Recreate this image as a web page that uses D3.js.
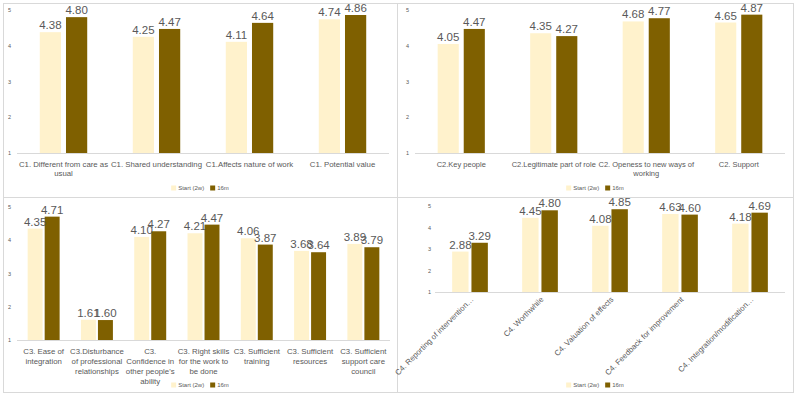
<!DOCTYPE html>
<html>
<head>
<meta charset="utf-8">
<script src="https://cdnjs.cloudflare.com/ajax/libs/d3/7.8.5/d3.min.js"></script>
<style>
  html, body { margin: 0; padding: 0; background: #ffffff; }
  svg { display: block; }
</style>
</head>
<body>
<svg id="chart" width="796" height="399"></svg>
<script>
// ---------------- data ----------------
const seriesNames = ["Start (2w)", "16m"];
const yTicks = [1, 2, 3, 4, 5];

const c1Categories = ["C1. Different from care as usual", "C1. Shared understanding", "C1.Affects nature of work", "C1. Potential value"];
const c1Start = [4.38, 4.25, 4.11, 4.74];
const c1End   = [4.80, 4.47, 4.64, 4.86];

const c2Categories = ["C2.Key people", "C2.Legitimate part of role", "C2. Openess to new ways of working", "C2. Support"];
const c2Start = [4.05, 4.35, 4.68, 4.65];
const c2End   = [4.47, 4.27, 4.77, 4.87];

const c3Categories = ["C3. Ease of integration", "C3.Disturbance of professional relationships", "C3. Confidence in other people's ability", "C3. Right skills for the work to be done", "C3. Sufficient training", "C3. Sufficient resources", "C3. Sufficient support care council"];
const c3Start = [4.35, 1.61, 4.10, 4.21, 4.06, 3.68, 3.89];
const c3End   = [4.71, 1.60, 4.27, 4.47, 3.87, 3.64, 3.79];

const c4Categories = ["C4. Reporting of intervention\u2026", "C4. Worthwhile", "C4. Valuation of effects", "C4. Feedback for improvement", "C4. Integration/modification\u2026"];
const c4Start = [2.88, 4.45, 4.08, 4.63, 4.18];
const c4End   = [3.29, 4.80, 4.85, 4.60, 4.69];

// ---------------- style ----------------
const COLORS = ["#FFF2CC", "#7F6000"];
const TEXT = "#595959";
const BORDER = "#d9d9d9";
const FONT = "'Liberation Sans', Arial, sans-serif";

const svg = d3.select("#chart");
svg.append("rect").attr("x", 0).attr("y", 0).attr("width", 796).attr("height", 399).attr("fill", "#fff");

function wrapText(textSel, words, width, lineH) {
  let line = [];
  let lines = [];
  const probe = textSel.append("tspan");
  words.forEach(w => {
    const test = line.concat([w]).join(" ");
    probe.text(test);
    if (probe.node().getComputedTextLength() > width && line.length) {
      lines.push(line.join(" "));
      line = [w];
    } else {
      line.push(w);
    }
  });
  if (line.length) lines.push(line.join(" "));
  probe.remove();
  lines.forEach((l, i) => {
    textSel.append("tspan").attr("x", textSel.attr("x")).attr("dy", i === 0 ? 0 : lineH).text(l);
  });
}

function drawPanel(cfg) {
  const g = svg.append("g");
  g.append("rect")
    .attr("x", cfg.box[0] + 0.5).attr("y", cfg.box[1] + 0.5)
    .attr("width", cfg.box[2] - cfg.box[0]).attr("height", cfg.box[3] - cfg.box[1])
    .attr("fill", "#fff").attr("stroke", BORDER).attr("stroke-width", 1);

  const x = d3.scaleBand().domain(cfg.cats).range([cfg.left, cfg.right])
    .paddingInner(cfg.pad).paddingOuter(cfg.pad / 2);
  const xs = d3.scaleBand().domain([0, 1]).range([0, x.bandwidth()]).paddingInner(cfg.subPad).paddingOuter(0);
  const y = d3.scaleLinear().domain([1, 5]).range([cfg.bottom, cfg.top]);

  g.selectAll(".ytick").data(yTicks).join("text")
    .attr("x", cfg.yLabelX).attr("y", d => y(d) + 2)
    .attr("text-anchor", "end")
    .attr("font-family", FONT).attr("font-size", 5.5).attr("fill", TEXT)
    .text(d => d);

  g.append("line")
    .attr("x1", cfg.left).attr("x2", cfg.right)
    .attr("y1", Math.round(y(1)) + 0.5).attr("y2", Math.round(y(1)) + 0.5)
    .attr("stroke", BORDER).attr("stroke-width", 1);

  const series = [cfg.start, cfg.end];
  const rows = [];
  cfg.cats.forEach((c, i) => series.forEach((s, k) => rows.push({ c, k, v: s[i] })));

  g.selectAll(".bar").data(rows).join("rect")
    .attr("x", d => x(d.c) + xs(d.k))
    .attr("width", xs.bandwidth())
    .attr("y", d => y(d.v))
    .attr("height", d => y(1) - y(d.v))
    .attr("fill", d => COLORS[d.k]);

  g.selectAll(".val").data(rows).join("text")
    .attr("x", d => x(d.c) + xs(d.k) + xs.bandwidth() / 2)
    .attr("y", d => y(d.v) - 3)
    .attr("text-anchor", "middle")
    .attr("font-family", FONT).attr("font-size", cfg.valSize).attr("fill", TEXT)
    .text(d => d.v.toFixed(2));

  if (cfg.rotate) {
    cfg.cats.forEach(c => {
      const cx = x(c) + x.bandwidth() / 2 + cfg.rotDx;
      const cy = y(1) + cfg.rotDy;
      g.append("text")
        .attr("transform", `translate(${cx},${cy}) rotate(-45)`)
        .attr("text-anchor", "end")
        .attr("font-family", FONT).attr("font-size", cfg.catSize).attr("fill", TEXT)
        .text(c);
    });
  } else {
    cfg.cats.forEach(c => {
      const t = g.append("text")
        .attr("x", x(c) + x.bandwidth() / 2)
        .attr("y", y(1) + cfg.catDy)
        .attr("text-anchor", "middle")
        .attr("font-family", FONT).attr("font-size", cfg.catSize).attr("fill", TEXT);
      wrapText(t, c.split(" "), x.step() * cfg.wrapFrac, cfg.lineH);
    });
  }

  const lg = g.append("g");
  let cursor = 0;
  seriesNames.forEach((n, k) => {
    lg.append("rect").attr("x", cursor).attr("y", -2.5).attr("width", 5).attr("height", 5).attr("fill", COLORS[k]);
    const t = lg.append("text").attr("x", cursor + 7).attr("y", 2)
      .attr("font-family", FONT).attr("font-size", 6).attr("fill", TEXT).text(n);
    cursor += 7 + t.node().getComputedTextLength() + 6;
  });
  const lw = cursor - 6;
  const mid = (cfg.box[0] + cfg.box[2]) / 2;
  lg.attr("transform", `translate(${mid - lw / 2},${cfg.legendY})`);
}

drawPanel({
  cats: c1Categories, start: c1Start, end: c1End,
  box: [3, 3, 397, 197], left: 17, right: 389, top: 10, bottom: 153,
  pad: 0.49, subPad: 0.19, yLabelX: 11, valSize: 11.5,
  catSize: 7.8, catDy: 14, lineH: 9, wrapFrac: 0.98, legendY: 188
});
drawPanel({
  cats: c2Categories, start: c2Start, end: c2End,
  box: [397, 3, 793, 197], left: 415, right: 785, top: 10, bottom: 153,
  pad: 0.49, subPad: 0.19, yLabelX: 409, valSize: 11.5,
  catSize: 7.5, catDy: 14, lineH: 9, wrapFrac: 1.08, legendY: 188
});
drawPanel({
  cats: c3Categories, start: c3Start, end: c3End,
  box: [3, 197, 397, 392], left: 17, right: 390, top: 207, bottom: 340,
  pad: 0.40, subPad: 0.12, yLabelX: 11, valSize: 11.5,
  catSize: 7.8, catDy: 14, lineH: 10, wrapFrac: 1.0, legendY: 385
});
drawPanel({
  cats: c4Categories, start: c4Start, end: c4End,
  box: [397, 197, 793, 392], left: 435, right: 785, top: 206, bottom: 292,
  pad: 0.49, subPad: 0.15, yLabelX: 431, valSize: 11.5,
  catSize: 7.8, rotate: true, rotDx: 4, rotDy: 8, legendY: 385
});
</script>
</body>
</html>
